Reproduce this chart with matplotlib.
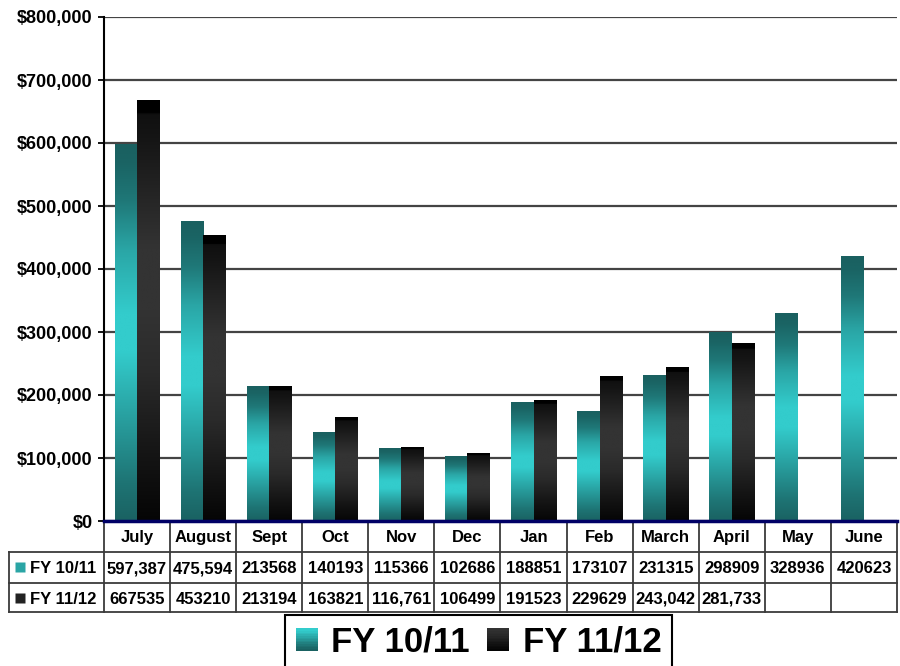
import numpy as np
import matplotlib
matplotlib.use("Agg")
import matplotlib.pyplot as plt
from matplotlib.colors import LinearSegmentedColormap
from matplotlib.legend_handler import HandlerBase
from matplotlib.patches import Rectangle
from matplotlib.ticker import FuncFormatter

months = ["July", "August", "Sept", "Oct", "Nov", "Dec",
          "Jan", "Feb", "March", "April", "May", "June"]
series_names = ["FY 10/11", "FY 11/12"]
fy1011 = [597387, 475594, 213568, 140193, 115366, 102686,
          188851, 173107, 231315, 298909, 328936, 420623]
fy1112 = [667535, 453210, 213194, 163821, 116761, 106499,
          191523, 229629, 243042, 281733, np.nan, np.nan]
# table cells as printed in the sheet (mixed formatting)
fy1011_text = ["597,387", "475,594", "213568", "140193", "115366", "102686",
               "188851", "173107", "231315", "298909", "328936", "420623"]
fy1112_text = ["667535", "453210", "213194", "163821", "116,761", "106499",
               "191523", "229629", "243,042", "281,733", "", ""]

plt.rcParams["font.family"] = ["Liberation Sans", "DejaVu Sans"]
plt.rcParams["font.weight"] = "bold"

# vertical gradients, 0 = bottom of bar, 1 = top
teal_cmap = LinearSegmentedColormap.from_list("teal", [
    (0.0, "#1a6262"), (0.1, "#1e7474"), (0.3, "#2aa6a6"), (0.45, "#33cccc"),
    (0.55, "#33cccc"), (0.72, "#2aa6a6"), (0.85, "#1f7878"), (0.95, "#1a6464"),
    (1.0, "#1a6060")])
black_cmap = LinearSegmentedColormap.from_list("blk", [
    (0.0, "#050505"), (0.15, "#141414"), (0.35, "#2a2a2a"), (0.5, "#333333"),
    (0.65, "#333333"), (0.8, "#222222"), (0.92, "#141414"), (0.968, "#101010"),
    (0.972, "#000000"), (1.0, "#000000")])


class GradHandler(HandlerBase):
    def __init__(self, cmap):
        super().__init__()
        self.cmap = cmap

    def create_artists(self, legend, orig_handle, xdescent, ydescent,
                       width, height, fontsize, trans):
        n = 14
        arts = []
        for k in range(n):
            c = self.cmap(0.5 * k / (n - 1))
            arts.append(Rectangle((-xdescent, -ydescent + height * k / n),
                                  width, height / n * 1.1, facecolor=c,
                                  edgecolor="none", transform=trans))
        return arts


fig = plt.figure(figsize=(9, 6.66), dpi=100)
ax = fig.add_axes([104 / 900, 1 - 521 / 666, 793 / 900, 504 / 666])

x = np.arange(len(months))
w = 0.34
bars1 = ax.bar(x - w / 2, fy1011, w, color="none")
bars2 = ax.bar(x + w / 2, fy1112, w, color="none")

grad = np.linspace(0, 1, 256).reshape(-1, 1)
for bars, cmap in ((bars1, teal_cmap), (bars2, black_cmap)):
    for rect in bars:
        h = rect.get_height()
        if not np.isfinite(h) or h <= 0:
            continue
        x0 = rect.get_x()
        ax.imshow(grad, extent=(x0, x0 + rect.get_width(), 0, h), origin="lower",
                  aspect="auto", cmap=cmap, zorder=2, interpolation="bilinear")

ax.set_xlim(-0.5, 11.5)
ax.set_ylim(0, 800000)
ax.set_yticks(np.arange(0, 800001, 100000))
ax.yaxis.set_major_formatter(FuncFormatter(lambda v, p: "${:,.0f}".format(v)))
ax.tick_params(axis="y", direction="out", length=4, width=1.3, pad=4, labelsize=13)
ax.set_xticks([])
ax.grid(axis="y", color="#444444", lw=1.6)
ax.set_axisbelow(True)
for s in ("top", "right"):
    ax.spines[s].set_visible(False)
ax.spines["left"].set_linewidth(1.5)
ax.spines["bottom"].set_color("#000066")
ax.spines["bottom"].set_linewidth(2.5)
ax.spines["bottom"].set_zorder(5)

# data table under the axis
tr = ax.get_xaxis_transform()
row_y = [0, -0.0615, -0.123, -0.1806]
lab_w = 95 / 66.08
xl = -0.5 - lab_w
lkw = dict(color="#3a3a3a", lw=1.3, clip_on=False, transform=tr)
for i in range(len(months) + 1):
    ax.plot([i - 0.5, i - 0.5], [0, row_y[3]], **lkw)
ax.plot([xl, xl], [row_y[1], row_y[3]], **lkw)
for yy in row_y[1:]:
    ax.plot([xl, 11.5], [yy, yy], **lkw)

tkw = dict(ha="center", va="center_baseline", fontsize=12, transform=tr)
for i, m in enumerate(months):
    ax.text(i, (row_y[0] + row_y[1]) / 2, m, **tkw)
    ax.text(i, (row_y[1] + row_y[2]) / 2, fy1011_text[i], **tkw)
    ax.text(i, (row_y[2] + row_y[3]) / 2, fy1112_text[i], **tkw)

for r, (name, col) in enumerate(zip(series_names, ["#2aa5a5", "#222222"])):
    yc = (row_y[r + 1] + row_y[r + 2]) / 2
    ax.plot([xl + 0.16], [yc], marker="s", ms=7, color=col, mec="none",
            clip_on=False, transform=tr)
    ax.text(xl + 0.32, yc, name, ha="left", va="center_baseline",
            fontsize=12, transform=tr)

handles = [Rectangle((0, 0), 1, 1), Rectangle((0, 0), 1, 1)]
leg = fig.legend(handles, series_names,
                 handler_map={handles[0]: GradHandler(teal_cmap),
                              handles[1]: GradHandler(black_cmap)},
                 loc="upper center", bbox_to_anchor=(0.532, 1 - 615 / 666),
                 ncol=2, prop=dict(size=25, weight="bold"), frameon=True,
                 fancybox=False, edgecolor="black", framealpha=1,
                 handlelength=0.63, handleheight=0.63, handletextpad=0.4,
                 columnspacing=0.5, borderpad=0.3, borderaxespad=0)
leg.get_frame().set_linewidth(1.5)

fig.savefig("out.png", dpi=100)
